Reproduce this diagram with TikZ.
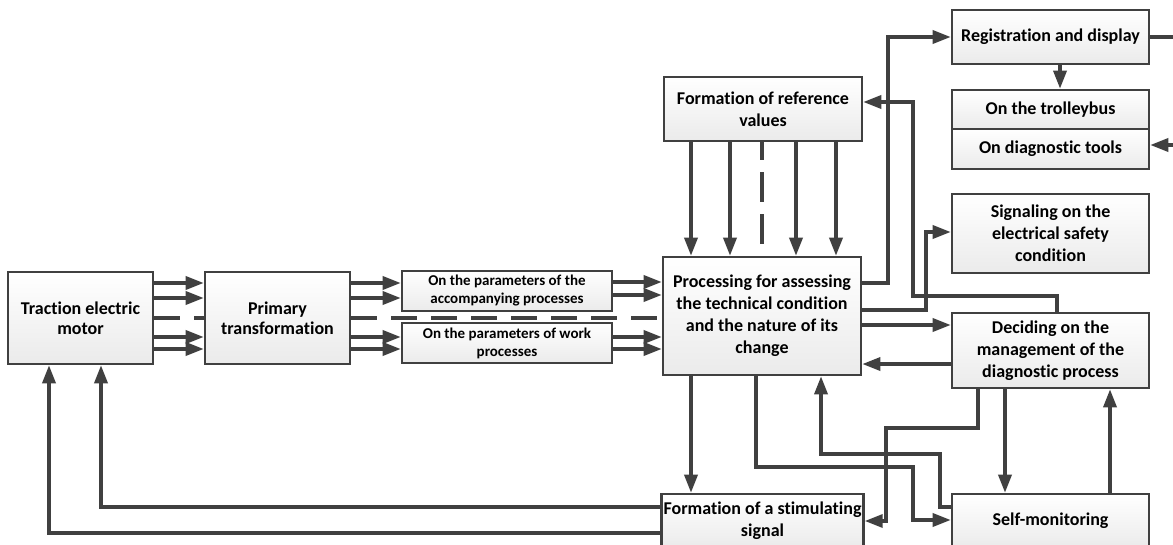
\documentclass[tikz,border=0pt]{standalone}
\usepackage{fontspec}
\setmainfont{Carlito}[Ligatures=NoCommon]
\usetikzlibrary{arrows.meta}
\definecolor{lnc}{HTML}{404040}
\begin{document}
\begin{tikzpicture}[x=1pt,y=-1pt,
  box/.style={draw=lnc, line width=2.6pt, top color=white, bottom color=gray!16,
    align=center, inner sep=2pt, font=\bfseries\fontsize{18}{22}\selectfont},
  smallbox/.style={box, font=\bfseries\fontsize{15}{18}\selectfont},
  wire/.style={draw=lnc, line width=3.4pt},
  arr/.style={wire, -{Triangle[length=18pt,width=13pt]}},
  dsh/.style={wire, dash pattern=on 26pt off 14pt}]
\useasboundingbox (0,0) rectangle (1173,544);
\clip (0,0) rectangle (1173,544);

% boxes
\node[box, minimum width=145pt, minimum height=92pt, font=\bfseries\fontsize{18}{19.5}\selectfont] (tem) at (80.5,318) {Traction electric\\motor};
\node[box, minimum width=145pt, minimum height=92pt, font=\bfseries\fontsize{18}{20.5}\selectfont] (pt) at (277.5,318) {Primary\\transformation};
\node[smallbox, minimum width=210pt, minimum height=40pt] (acc) at (507,291) {On the parameters of the\\accompanying processes};
\node[smallbox, minimum width=210pt, minimum height=40pt] (work) at (507,343) {On the parameters of work\\processes};
\node[box, minimum width=198pt, minimum height=118pt] (proc) at (762,316) {Processing for assessing\\the technical condition\\and the nature of its\\change};
\node[box, minimum width=198pt, minimum height=64pt] (ref) at (763,109) {Formation of reference\\values};
\node[box, minimum width=197pt, minimum height=54pt] (reg) at (1050.5,37) {Registration and display};
\node[box, minimum width=197pt, minimum height=39pt] (trol) at (1050.5,109.5) {On the trolleybus};
\node[box, minimum width=197pt, minimum height=40pt] (diag) at (1050.5,149) {On diagnostic tools};
\node[box, minimum width=197pt, minimum height=79pt] (sig) at (1050.5,233.5) {Signaling on the\\electrical safety\\condition};
\node[box, minimum width=197pt, minimum height=75pt] (dec) at (1050.5,350.5) {Deciding on the\\management of the\\diagnostic process};
\node[box, minimum width=197pt, minimum height=54pt] (stim) at (762.5,521) {Formation of a stimulating\\signal};
\node[box, minimum width=197pt, minimum height=54pt] (self) at (1050.5,521) {Self-monitoring};

% traction -> primary
\foreach \y in {283,298,337,349} \draw[arr] (tem.east |- 0,\y) -- (pt.west |- 0,\y);
\draw[dsh] (tem.east |- 0,318) -- (pt.west |- 0,318);
% primary -> channels
\foreach \y in {283,298} \draw[arr] (pt.east |- 0,\y) -- (acc.west |- 0,\y);
\foreach \y in {337,349} \draw[arr] (pt.east |- 0,\y) -- (work.west |- 0,\y);
\draw[dsh] (pt.east |- 0,318) -- (proc.west |- 0,318);
% channels -> processing
\foreach \y in {282,295} \draw[arr] (acc.east |- 0,\y) -- (proc.west |- 0,\y);
\foreach \y in {337,349} \draw[arr] (work.east |- 0,\y) -- (proc.west |- 0,\y);
% reference -> processing
\foreach \x in {691,730,796,836} \draw[arr] (ref.south -| \x,0) -- (proc.north -| \x,0);
\draw[dsh, dash pattern=on 30pt off 12pt, dash phase=12pt, shorten >=6pt] (ref.south -| 762,0) -- (proc.north -| 762,0);
% processing -> registration
\draw[arr] (proc.east |- 0,283) -| (888,37) -- (reg.west);
% deciding -> reference
\draw[arr] (dec.north -| 1057,0) |- (913,296) |- (ref.east |- 0,102);
% processing -> signaling
\draw[arr] (proc.east |- 0,310) -| (926,232) -- (sig.west |- 0,232);
% processing <-> deciding
\draw[arr] (proc.east |- 0,325) -- (dec.west |- 0,325);
\draw[arr] (dec.west |- 0,364) -- (proc.east |- 0,364);
% registration -> trolleybus
\draw[arr] (reg.south -| 1060,0) -- (trol.north -| 1060,0);
% registration off to the right, back into diagnostic tools
\coordinate (offA) at (1173,37);
\coordinate (offB) at (1173,145);
\draw[wire] (reg.east) -- (offA);
\draw[arr] (offB) -- (diag.east |- offB);
% processing -> stimulating
\draw[arr] (proc.south -| 691,0) -- (stim.north -| 691,0);
% processing -> self-monitoring
\draw[arr] (proc.south -| 756,0) |- (913,467) |- (self.west |- 0,520);
% self-monitoring -> processing
\draw[arr] (self.west |- 0,507) -| (940,454) -| (proc.south -| 821,0);
% deciding -> stimulating
\draw[arr] (dec.south -| 978,0) |- (886,428) |- (stim.east |- 0,521);
% deciding <-> self-monitoring
\draw[arr] (dec.south -| 1005,0) -- (self.north -| 1005,0);
\draw[arr] (self.north -| 1110,0) -- (dec.south -| 1110,0);
% stimulating -> traction motor
\draw[arr] (stim.west |- 0,507) -| (tem.south -| 101,0);
\draw[arr] (stim.west |- 0,533) -| (tem.south -| 49,0);
\end{tikzpicture}
\end{document}
